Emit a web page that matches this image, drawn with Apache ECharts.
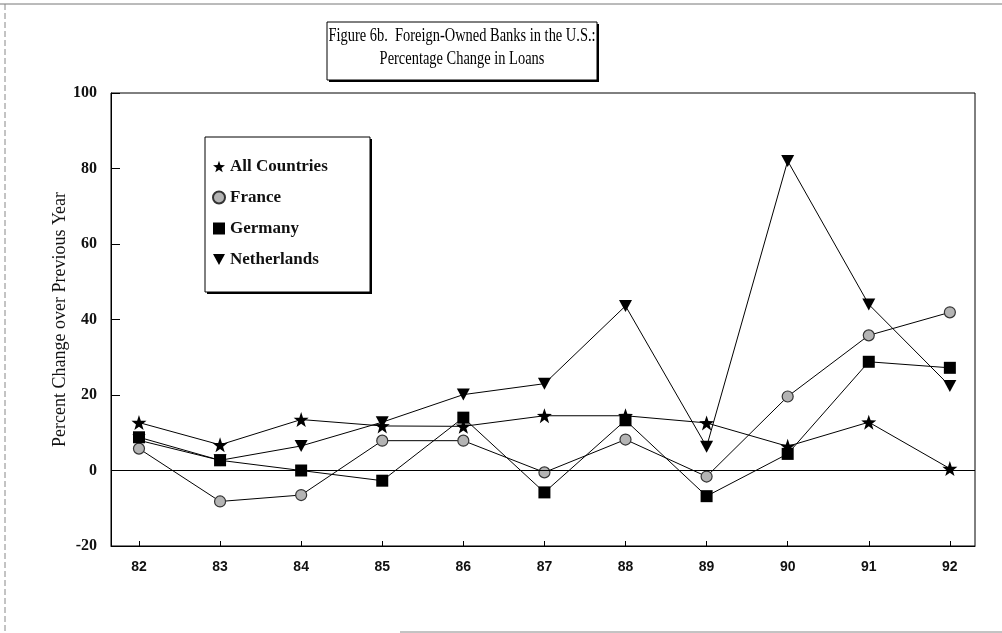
<!DOCTYPE html>
<html lang="en">
<head>
  <meta charset="UTF-8">
  <title>Figure 6b. Foreign-Owned Banks in the U.S.: Percentage Change in Loans</title>
  <script src="https://cdn.jsdelivr.net/npm/echarts@6/dist/echarts.min.js"></script>
  <style>
    html, body { margin: 0; padding: 0; background: #fff; }
    #chart { width: 1002px; height: 633px; }
  </style>
</head>
<body>
  <div id="chart"></div>
  <script>
    // years shown on the x axis (19xx)
    const years = [82, 83, 84, 85, 86, 87, 88, 89, 90, 91, 92];
    // percent change over previous year
    const allCountries = [12.7, 6.8, 13.5, 11.8, 11.7, 14.5, 14.5, 12.6, 6.4, 12.8, 0.5];
    const france = [5.8, -8.2, -6.5, 7.9, 7.9, -0.5, 8.2, -1.6, 19.6, 35.8, 41.9];
    const germany = [8.8, 2.7, 0, -2.7, 14, -5.8, 13.3, -6.8, 4.4, 28.8, 27.2];
    const netherlands = [8, 2.7, 6.5, 12.8, 20.1, 23, 43.6, 6.3, 82, 44, 22.4];

    const starPath = 'path://M0,-10L2.35,-3.24L9.51,-3.09L3.8,1.24L5.88,8.09L0,4L-5.88,8.09L-3.8,1.24L-9.51,-3.09L-2.35,-3.24Z';
    const triDownPath = 'path://M0,0L10,0L5,9Z';

    const pair = arr => arr.map((v, i) => [years[i], v]);
    const serif = 'Liberation Serif, Times New Roman, serif';

    // a framed box with a solid drop shadow on the right and bottom
    function shadowBox(x, y, w, h, z) {
      return [
        { type: 'rect', x: x + 2, y: y + 2, z: z, silent: true,
          shape: { width: w, height: h }, style: { fill: '#000' } },
        { type: 'rect', x: x, y: y, z: z + 1, silent: true,
          shape: { width: w, height: h }, style: { fill: '#fff', stroke: '#000', lineWidth: 1 } }
      ];
    }

    const chart = echarts.init(document.getElementById('chart'));
    chart.setOption({
      backgroundColor: '#fff',
      animation: false,
      grid: {
        left: 111, right: 27, top: 93, bottom: 87,
        show: true, borderColor: '#000', borderWidth: 1
      },
      legend: {
        orient: 'vertical',
        left: 212, top: 158,
        padding: 0,
        itemGap: 14,
        itemWidth: 12, itemHeight: 12,
        z: 20,
        textStyle: { fontFamily: serif, fontSize: 17, fontWeight: 'bold', color: '#111' },
        data: [
          { name: 'All Countries', icon: starPath },
          { name: 'France', icon: 'circle' },
          { name: 'Germany', icon: 'rect' },
          { name: 'Netherlands', icon: triDownPath }
        ]
      },
      xAxis: {
        type: 'value',
        min: 81.655, max: 92.31,
        axisLine: { onZero: false, lineStyle: { color: '#000' } },
        axisTick: { inside: true, length: 5, customValues: years, lineStyle: { color: '#000' } },
        axisLabel: {
          customValues: years, margin: 14,
          fontFamily: 'Liberation Sans, Arial, sans-serif', fontWeight: 'bold', fontSize: 14, color: '#111'
        },
        splitLine: { show: false }
      },
      yAxis: {
        type: 'value',
        min: -20, max: 100, interval: 20,
        name: 'Percent Change over Previous Year',
        nameLocation: 'middle', nameGap: 42, nameMoveOverlap: false,
        nameTextStyle: { fontFamily: serif, fontSize: 18, color: '#111' },
        axisLine: { show: true, lineStyle: { color: '#000' } },
        axisTick: { inside: true, length: 9, lineStyle: { color: '#000' } },
        axisLabel: { margin: 14, fontFamily: serif, fontWeight: 'bold', fontSize: 16, color: '#111' },
        splitLine: { show: false }
      },
      series: [
        {
          name: 'All Countries', type: 'line', data: pair(allCountries), z: 3,
          symbol: starPath, symbolSize: 15,
          itemStyle: { color: '#000' },
          lineStyle: { color: '#000', width: 1 },
          markLine: {
            silent: true, symbol: 'none', label: { show: false },
            lineStyle: { color: '#000', width: 1, type: 'solid' },
            data: [{ yAxis: 0 }]
          }
        },
        {
          name: 'France', type: 'line', data: pair(france), z: 3,
          symbol: 'circle', symbolSize: 11,
          itemStyle: { color: '#b4b4b4', borderColor: '#333', borderWidth: 1.2 },
          lineStyle: { color: '#000', width: 1 }
        },
        {
          name: 'Germany', type: 'line', data: pair(germany), z: 3,
          symbol: 'rect', symbolSize: 12,
          itemStyle: { color: '#000' },
          lineStyle: { color: '#000', width: 1 }
        },
        {
          name: 'Netherlands', type: 'line', data: pair(netherlands), z: 2,
          symbol: triDownPath, symbolSize: [13, 12],
          itemStyle: { color: '#000' },
          lineStyle: { color: '#000', width: 1 }
        }
      ],
      graphic: [
        // scanned page edges
        { type: 'line', shape: { x1: 0, y1: 4, x2: 1002, y2: 4 }, style: { stroke: '#777', lineWidth: 1 }, silent: true },
        { type: 'line', shape: { x1: 5, y1: 4, x2: 5, y2: 633 }, style: { stroke: '#888', lineWidth: 1, lineDash: [6, 3] }, silent: true },
        { type: 'line', shape: { x1: 400, y1: 632, x2: 1002, y2: 632 }, style: { stroke: '#888', lineWidth: 1 }, silent: true },
        // title box
        ...shadowBox(327, 22, 270, 58, 10),
        {
          type: 'text', x: 462, y: 36, z: 12, scaleX: 0.76, originX: 0, silent: true,
          style: {
            text: 'Figure 6b.  Foreign-Owned Banks in the U.S.:',
            fontFamily: serif, fontSize: 19, fill: '#000', align: 'center', verticalAlign: 'middle'
          }
        },
        {
          type: 'text', x: 462, y: 59, z: 12, scaleX: 0.76, originX: 0, silent: true,
          style: {
            text: 'Percentage Change in Loans',
            fontFamily: serif, fontSize: 19, fill: '#000', align: 'center', verticalAlign: 'middle'
          }
        },
        // legend frame
        ...shadowBox(205, 137, 165, 155, 10)
      ]
    });
  </script>
</body>
</html>
